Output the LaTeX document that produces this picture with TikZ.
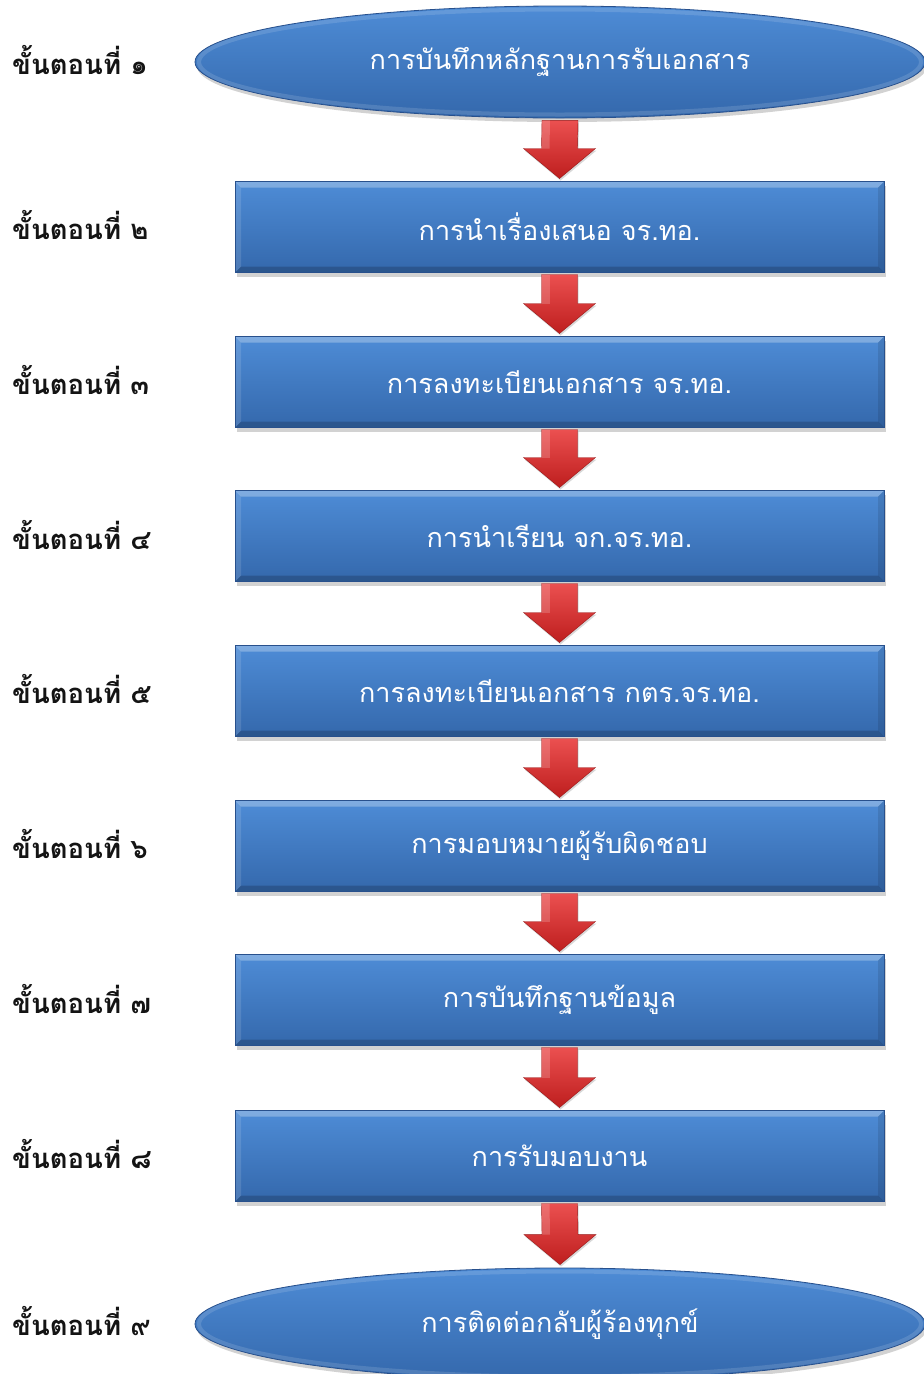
\documentclass[tikz,border=0pt]{standalone}
\usepackage{fontspec}
\newfontfamily\thai[Script=Thai]{Loma}
\usetikzlibrary{shapes.geometric,shadows,calc}
\definecolor{boxtop}{RGB}{78,140,214}
\definecolor{boxbot}{RGB}{52,104,172}
\definecolor{boxedge}{RGB}{40,80,140}
\definecolor{arrtop}{RGB}{235,80,80}
\definecolor{arrbot}{RGB}{190,30,30}
\tikzset{
  stepbox/.style={rectangle, minimum width=649pt, minimum height=91pt, outer sep=0pt,
    top color=boxtop, bottom color=boxbot, draw=boxedge, line width=0.8pt,
    drop shadow={shadow xshift=2pt, shadow yshift=-4pt, opacity=0.35},
    text=white, font=\thai\fontsize{27}{32}\selectfont},
  endcap/.style={ellipse, minimum width=730pt, minimum height=112pt,
    top color=boxtop, bottom color=boxbot, draw=boxedge, line width=0.8pt,
    drop shadow={shadow xshift=2pt, shadow yshift=-4pt, opacity=0.35},
    text=white, font=\thai\fontsize{27}{32}\selectfont},
  rim/.style={ellipse, minimum width=722pt, minimum height=105pt,
    draw=white, line width=4pt, draw opacity=0.13},
  steplabel/.style={anchor=west, inner sep=0pt, text=black!92,
    font=\thai\bfseries\fontsize{27.5}{32}\selectfont},
  blockarrow/.style={top color=arrtop, bottom color=arrbot, draw=arrbot!80!black, line width=0.4pt,
    drop shadow={shadow xshift=1pt, shadow yshift=-2pt, opacity=0.3}},
  bevellight/.style={fill=white, fill opacity=0.28},
  bevelside/.style={fill=white, fill opacity=0.12},
  beveldark/.style={fill=black, fill opacity=0.18},
  bevelshade/.style={fill=black, fill opacity=0.10}
}
% bevelled edges of a step box
\newcommand{\bevel}[1]{%
  \fill[bevellight] (#1.north west) -- (#1.north east) -- ($(#1.north east)+(-6,6)$) -- ($(#1.north west)+(6,6)$) -- cycle;
  \fill[beveldark] (#1.south west) -- (#1.south east) -- ($(#1.south east)+(-6,-6)$) -- ($(#1.south west)+(6,-6)$) -- cycle;
  \fill[bevelside] (#1.north west) -- ($(#1.north west)+(6,6)$) -- ($(#1.south west)+(6,-6)$) -- (#1.south west) -- cycle;
  \fill[bevelshade] (#1.north east) -- ($(#1.north east)+(-6,6)$) -- ($(#1.south east)+(-6,-6)$) -- (#1.south east) -- cycle;
  \draw[boxedge, line width=0.8pt] (#1.north west) rectangle (#1.south east);}
% block arrow from one step to the next
\newcommand{\flowarrow}[2]{%
  \path[blockarrow] ($(#1.south)+(-18,2)$) -- ($(#1.south)+(18,2)$)
    -- ($(#2.north)+(18,-33)$) -- ($(#2.north)+(36,-33)$)
    -- ($(#2.north)+(0,-3)$) -- ($(#2.north)+(-36,-33)$)
    -- ($(#2.north)+(-18,-33)$) -- cycle;
  \fill[white, opacity=0.18] ($(#1.south)+(-18,2)$) -- ($(#1.south)+(-10,2)$) -- ($(#2.north)+(-10,-33)$) -- ($(#2.north)+(-18,-33)$) -- cycle;}
\begin{document}
\begin{tikzpicture}[x=1pt,y=-1pt]
\useasboundingbox[fill=white] (0,0) rectangle (924,1374);
% process steps
\node[endcap]  (s1) at (560,62)   {การบันทึกหลักฐานการรับเอกสาร};
\node[rim] at (s1.center) {};
\node[stepbox] (s2) at (559.5,227) {การนำเรื่องเสนอ จร.ทอ.};
\node[stepbox] (s3) at (559.5,382) {การลงทะเบียนเอกสาร จร.ทอ.};
\node[stepbox] (s4) at (559.5,536) {การนำเรียน จก.จร.ทอ.};
\node[stepbox] (s5) at (559.5,691) {การลงทะเบียนเอกสาร กตร.จร.ทอ.};
\node[stepbox] (s6) at (559.5,846) {การมอบหมายผู้รับผิดชอบ};
\node[stepbox] (s7) at (559.5,1000) {การบันทึกฐานข้อมูล};
\node[stepbox] (s8) at (559.5,1156) {การรับมอบงาน};
\node[endcap]  (s9) at (560,1324) {การติดต่อกลับผู้ร้องทุกข์};
\node[rim] at (s9.center) {};
\foreach \n in {s2,s3,s4,s5,s6,s7,s8} {\bevel{\n}}
% arrows between steps
\flowarrow{s1}{s2}
\flowarrow{s2}{s3}
\flowarrow{s3}{s4}
\flowarrow{s4}{s5}
\flowarrow{s5}{s6}
\flowarrow{s6}{s7}
\flowarrow{s7}{s8}
\flowarrow{s8}{s9}
% step labels
\node[steplabel] (l1) at (12,60)   {ขั้นตอนที่ ๑};
\node[steplabel] (l2) at (12,225)  {ขั้นตอนที่ ๒};
\node[steplabel] (l3) at (12,380)  {ขั้นตอนที่ ๓};
\node[steplabel] (l4) at (12,535)  {ขั้นตอนที่ ๔};
\node[steplabel] (l5) at (12,689)  {ขั้นตอนที่ ๕};
\node[steplabel] (l6) at (12,844)  {ขั้นตอนที่ ๖};
\node[steplabel] (l7) at (12,999)  {ขั้นตอนที่ ๗};
\node[steplabel] (l8) at (12,1154) {ขั้นตอนที่ ๘};
\node[steplabel] (l9) at (12,1321) {ขั้นตอนที่ ๙};
\end{tikzpicture}
\end{document}
